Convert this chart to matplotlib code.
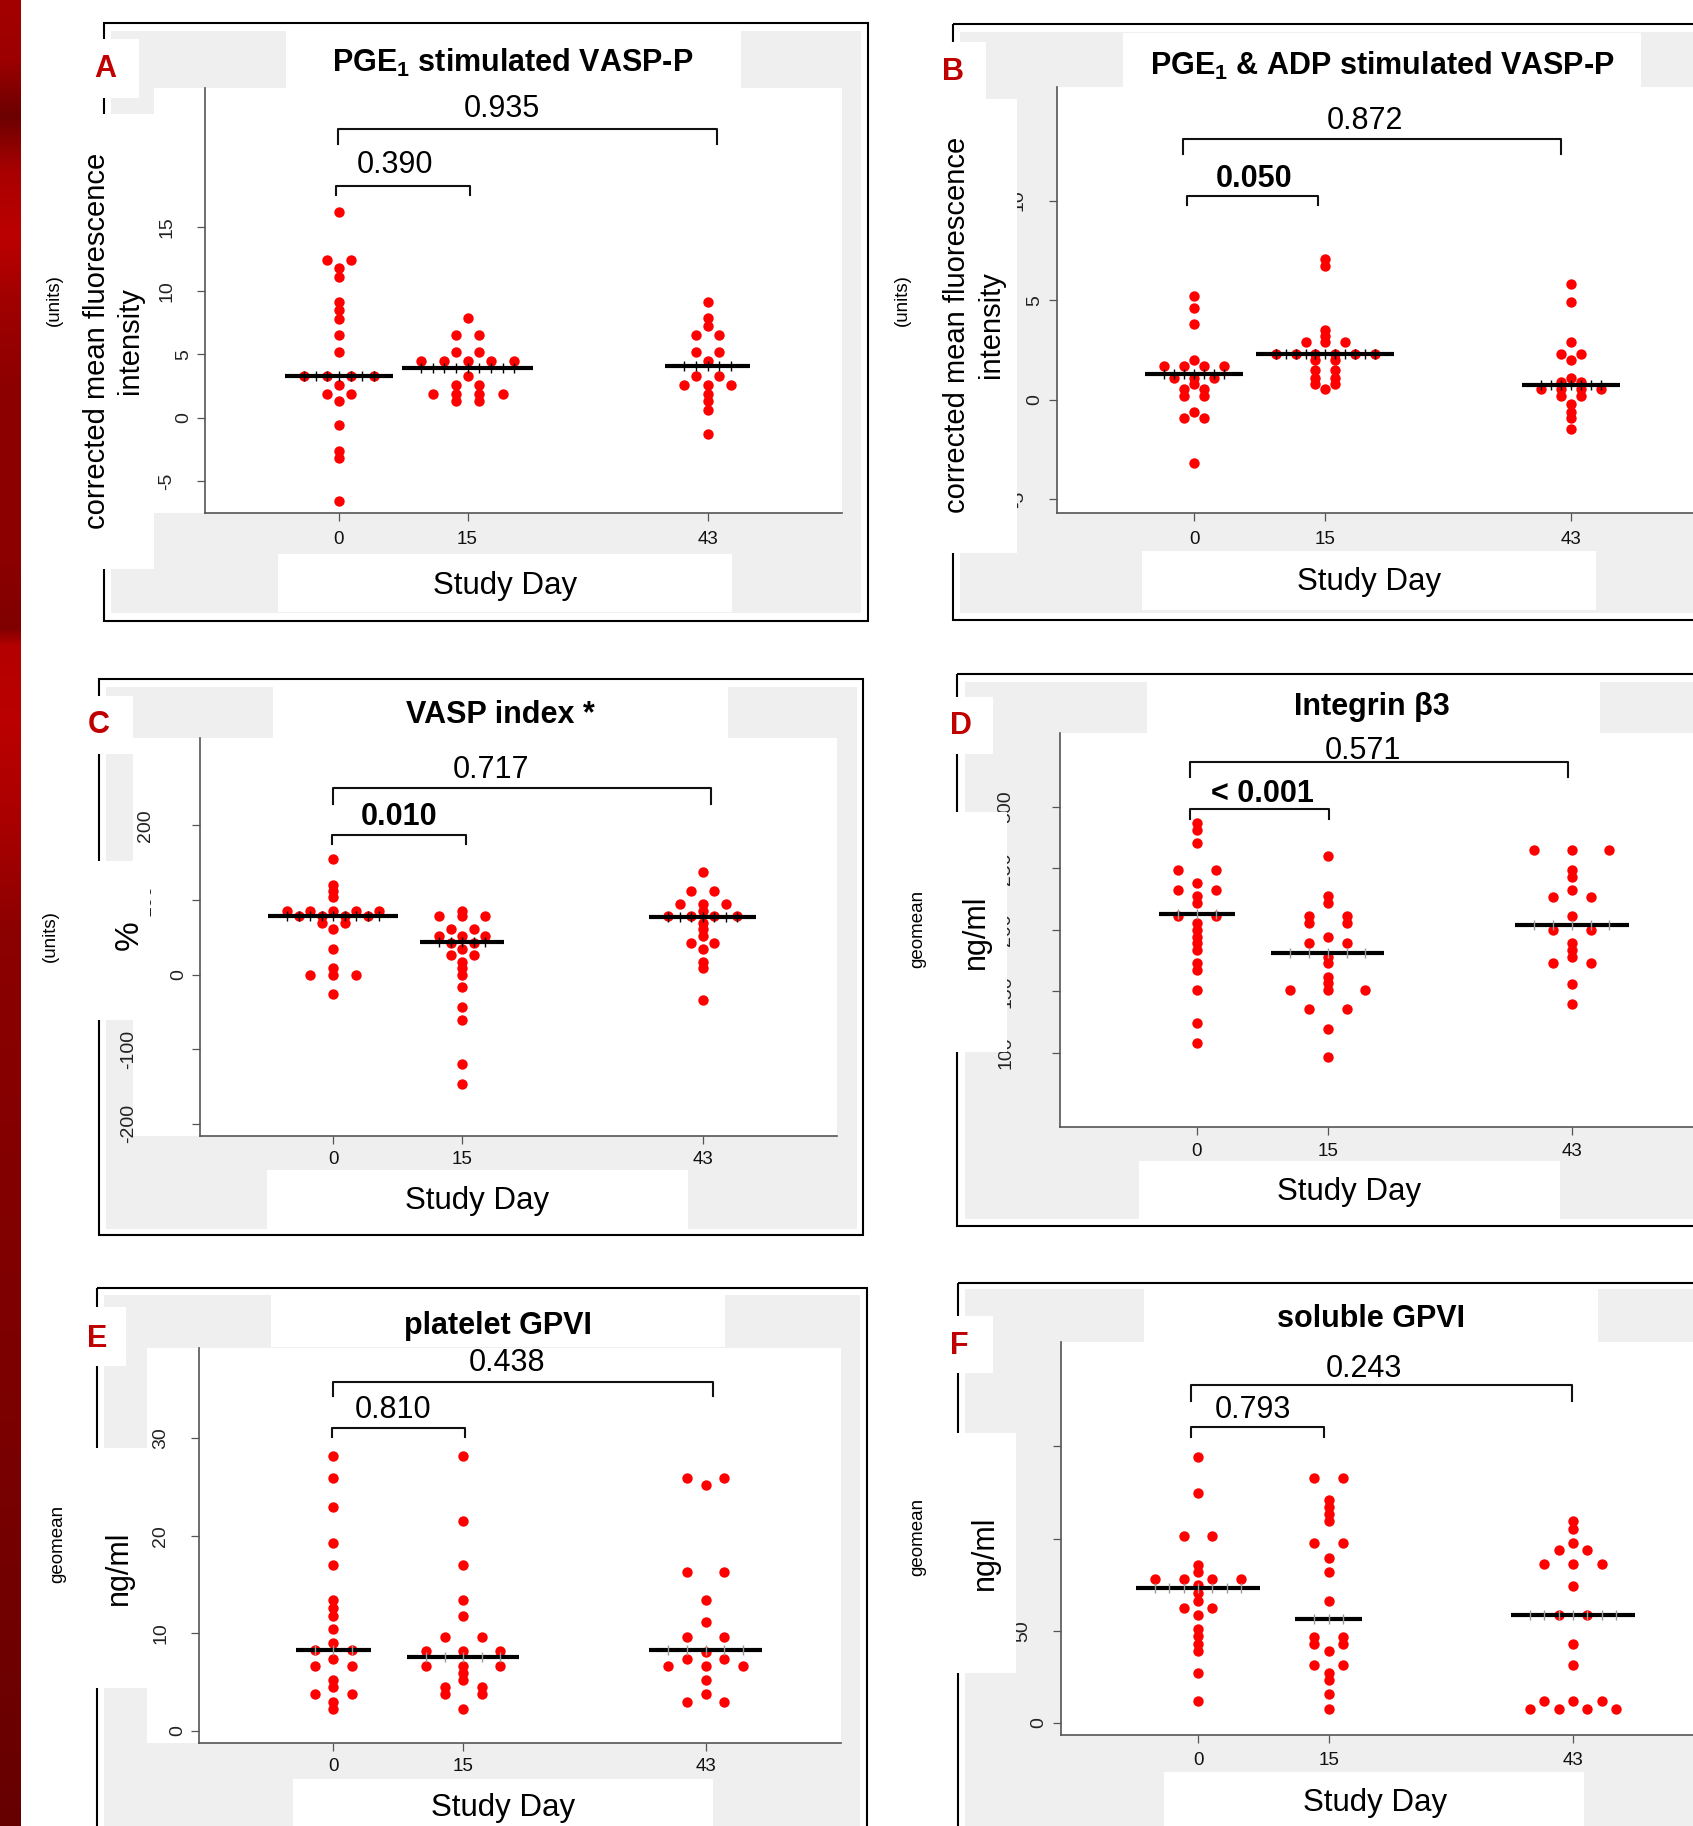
import numpy as np
import matplotlib
matplotlib.use("Agg")
import matplotlib.pyplot as plt
from matplotlib.patches import Rectangle
from matplotlib.transforms import Affine2D, blended_transform_factory
from matplotlib.colors import to_rgb

plt.rcParams['font.family'] = ['Liberation Sans', 'DejaVu Sans']
plt.rcParams['mathtext.fontset'] = 'custom'
plt.rcParams['mathtext.rm'] = 'Liberation Sans'
plt.rcParams['mathtext.bf'] = 'Liberation Sans:bold'

days = [0, 15, 43]

# A - PGE1 stimulated VASP-P (units)
a_d0 = [16.2, 12.4, 12.4, 11.8, 11.1, 9.1, 8.5, 7.8, 6.5, 5.2, 3.3, 3.3, 3.3, 3.3,
        2.6, 1.9, 1.9, 1.3, -0.6, -2.6, -3.2, -6.6]
a_d15 = [7.9, 6.5, 6.5, 5.2, 5.2, 4.5, 4.5, 4.5, 4.5, 4.5, 3.3, 2.6, 2.6,
         1.9, 1.9, 1.9, 1.9, 1.3, 1.3]
a_d43 = [9.1, 7.9, 7.2, 6.5, 6.5, 5.2, 5.2, 4.5, 3.3, 3.3, 2.6, 2.6, 2.6,
         1.9, 1.3, 0.6, -1.3]
a_med = [3.3, 3.9, 4.05]

# B - PGE1 & ADP stimulated VASP-P
b_d0 = [5.2, 4.6, 3.8, 2.0, 1.7, 1.7, 1.7, 1.7, 1.1, 1.1, 1.1, 0.8, 0.55, 0.55,
        0.2, 0.2, -0.6, -0.9, -0.9, -3.2]
b_d15 = [7.05, 6.7, 3.5, 3.2, 2.9, 2.9, 2.9, 2.3, 2.3, 2.3, 2.3, 2.3, 2.3,
         2.0, 2.0, 1.5, 1.5, 1.1, 1.1, 0.8, 0.8, 0.55]
b_d43 = [5.8, 4.9, 2.9, 2.3, 2.3, 2.0, 1.1, 0.9, 0.9, 0.55, 0.55, 0.55, 0.55,
         0.2, 0.2, -0.2, -0.6, -0.9, -1.5]
b_med = [1.27, 2.28, 0.75]

# C - VASP index (%)
c_d0 = [155, 120.5, 112, 103.6, 85.6, 85.6, 85.6, 85.6, 85.6, 78, 78, 78, 78,
        68.7, 68.7, 61, 34.4, 8.7, 0, 0, 0, -26]
c_d15 = [85.6, 78, 78, 78, 61, 61, 52.3, 52.3, 52.3, 42, 42, 34.4, 26.7, 26.7,
         16.4, 8.7, 0, -17, -43.6, -60.5, -119.5, -146]
c_d43 = [138, 112, 112, 95, 95, 95, 85.6, 78, 78, 78, 78, 68.7, 61, 52.3,
         43, 43, 34.4, 17.4, 8.7, -34]
c_med = [78, 43.6, 77]

# D - Integrin beta3 (ng/ml)
d_d0 = [287, 280.7, 270.5, 248.4, 248.4, 237.9, 232.3, 232.3, 227.3, 221.4,
        210.9, 210.9, 205.3, 199.7, 194.4, 189.1, 183.5, 172.7, 167.4, 151.2,
        124.5, 108]
d_d15 = [259.6, 227.3, 221.4, 210.9, 210.9, 205.3, 205.3, 194.4, 189.1, 189.1,
         178.3, 172.7, 161.8, 156.5, 151.2, 151.2, 151.2, 135.4, 135.4, 119.3, 96.9]
d_d43 = [264.6, 264.6, 264.6, 248.4, 243.2, 232.3, 227, 227, 210.9, 199.7,
         199.7, 189.1, 183.5, 178.3, 172.7, 172.7, 156.2, 140]
d_med = [212.7, 181, 204]

# E - platelet GPVI (ng/ml)
e_d0 = [28.2, 25.9, 23.0, 19.3, 17.0, 13.4, 12.6, 11.8, 10.4, 9.0, 8.25, 8.25,
        7.4, 6.65, 6.65, 5.2, 4.5, 3.75, 3.75, 3.0, 2.25]
e_d15 = [28.2, 21.5, 17.0, 13.4, 11.8, 9.6, 9.6, 8.2, 8.2, 8.2, 6.65, 6.65,
         6.65, 5.9, 5.2, 4.5, 4.5, 3.75, 3.75, 2.25]
e_d43 = [25.9, 25.9, 25.2, 16.3, 16.3, 13.4, 11.2, 9.6, 9.6, 8.1, 7.4, 7.4,
         6.65, 6.65, 6.65, 5.2, 3.75, 3.0, 3.0]
e_med = [8.25, 7.56, 8.25]

# F - soluble GPVI (ng/ml)
f_d0 = [144.4, 124.8, 101.5, 101.5, 85.8, 81.9, 78.1, 78.1, 78.1, 78.1, 74.6,
        70.4, 66, 62.1, 62.1, 58.7, 51, 47.1, 42.9, 39, 27.1, 11.7]
f_d15 = [132.7, 132.7, 121.2, 117.3, 113.5, 109.6, 97.5, 97.5, 89.6, 81.9, 66.3,
         46.7, 46.7, 42.9, 42.9, 39, 31.2, 31.2, 27.1, 23.3, 15.6, 7.7]
f_d43 = [109.6, 105.4, 97.5, 93.7, 93.7, 86, 86, 86, 74.4, 58.7, 58.7, 42.9,
         31.2, 11.7, 11.7, 11.7, 7.7, 7.7, 7.7, 7.7]
f_med = [73.3, 56.3, 58.7]

# p values: (label, bold)
a_p = [("0.390", False), ("0.935", False)]
b_p = [("0.050", True), ("0.872", False)]
c_p = [("0.010", True), ("0.717", False)]
d_p = [("< 0.001", True), ("0.571", False)]
e_p = [("0.810", False), ("0.438", False)]
f_p = [("0.793", False), ("0.243", False)]

W, H = 1693, 1826
fig = plt.figure(figsize=(W / 100, H / 100), dpi=100)
px = Affine2D().scale(1 / W, -1 / H).translate(0, 1) + fig.transFigure

GRAY = '#efefef'


def box(l, t, r, b, color, z):
    fig.add_artist(Rectangle((l, t), r - l, b - t, transform=px, facecolor=color,
                             edgecolor='none', zorder=z))


def swarm(vals, center, sp):
    counts = {}
    for v in vals:
        counts[v] = counts.get(v, 0) + 1
    seen = {}
    xs = []
    for v in vals:
        n = counts[v]
        k = seen.get(v, 0)
        seen[v] = k + 1
        xs.append(center + (k - (n - 1) / 2) * sp)
    return np.array(xs), max(counts.values())


# red strip on the left
strip = [(0, '#a30000'), (60, '#9c0000'), (115, '#6c0000'), (170, '#a80000'),
         (235, '#bc0000'), (300, '#a00000'), (390, '#8c0000'), (560, '#8c0000'),
         (628, '#800000'), (645, '#b40000'), (720, '#bb0000'), (820, '#aa0000'),
         (930, '#8c0000'), (1150, '#840000'), (1450, '#7a0000'), (1826, '#660000')]
sy = np.array([s[0] for s in strip])
sc = np.array([to_rgb(s[1]) for s in strip])
yy = np.arange(H)
img = np.stack([np.interp(yy, sy, sc[:, i]) for i in range(3)], axis=1)[:, None, :]
sax = fig.add_axes([0, 0, 21 / W, 1], zorder=-5)
sax.imshow(img, aspect='auto', extent=(0, 1, H, 0))
sax.set_axis_off()

# brk entries: (x start, x end, top, leg bottom, label x, label baseline)
panels = [
    dict(groups=[a_d0, a_d15, a_d43], med=a_med, p=a_p,
         border=(103.6, 23.3, 867.5, 620.6), gray=(111, 31.4, 861, 613.5),
         whites=[(286, 31.4, 741, 88), (154, 88, 841.7, 513), (278, 554, 732, 611.7)],
         covers=[(93, 39, 139, 98), (96, 114, 154, 569)],
         ax=(205, 88, 841.7, 513), cal=(339, 8.57, 417.7, 0, 12.68),
         yticks=[-5, 0, 5, 10, 15], xtick_y=544,
         letter=('A', 105.5, 69), title=('PGE$_{\\mathbf{1}}$ stimulated VASP-P', 513, 72),
         ylab=[('corrected mean fluorescence', 105, 341), ('intensity', 138, 341)], ylab_size=21,
         small=('(units)', 54, 300), xlab=(505, 593.6),
         brk=[(-0.4, 15.3, 18.3, 17.6, 6.5, 19.32), (-0.1, 44.1, 22.75, 21.6, 19, 23.69)],
         sp=2.72, tickc='black'),
    dict(groups=[b_d0, b_d15, b_d43], med=b_med, p=b_p,
         border=(952.7, 24, 1710, 620), gray=(960, 31.7, 1710, 613.3),
         whites=[(1122.7, 33.3, 1641, 87.5), (1056.5, 87.5, 1710, 513), (1142, 551, 1596, 610)],
         covers=[(930, 41.7, 985.7, 99), (930, 99, 1017.3, 553)],
         ax=(1056.5, 87.5, 1710, 513), cal=(1194, 8.76, 399.6, 0, 19.9),
         yticks=[-5, 0, 5, 10], xtick_y=544,
         letter=('B', 952.5, 72), title=('PGE$_{\\mathbf{1}}$ & ADP stimulated VASP-P', 1382, 75),
         ylab=[('corrected mean fluorescence', 965, 325), ('intensity', 999, 325)], ylab_size=21,
         small=('(units)', 902, 300), xlab=(1369, 590),
         brk=[(-0.8, 14.2, 10.23, 9.79, 6.8, 10.7), (-1.2, 41.9, 13.1, 12.35, 19.5, 13.62)],
         sp=2.27, tickc='black'),
    dict(groups=[c_d0, c_d15, c_d43], med=c_med, p=c_p,
         border=(98.5, 679.3, 863.3, 1235), gray=(106, 687, 857, 1229),
         whites=[(273, 687, 728, 738.5), (133, 738.5, 837, 1135.7), (267, 1170, 688, 1229)],
         covers=[(90, 696, 133, 754.5), (90, 861, 150, 1020.5)],
         ax=(200, 738.5, 837, 1135.7), cal=(333.3, 8.59, 974.6, 0, 0.746),
         yticks=[-200, -100, 0, 100, 200], xtick_y=1164.4,
         letter=('C', 99, 725), title=('VASP index *', 500, 723),
         ylab=[('%', 138, 935.6)], ylab_size=24,
         small=('(units)', 50, 936.5), xlab=(477, 1209),
         brk=[(-0.1, 15.5, 186.7, 175.4, 7.7, 201), (0, 44.0, 249.7, 229.2, 18.4, 263.7)],
         sp=2.68, tickc='black'),
    dict(groups=[d_d0, d_d15, d_d43], med=d_med, p=d_p,
         border=(956.7, 674, 1710, 1225.6), gray=(965, 681.7, 1710, 1219.5),
         whites=[(1146.5, 681.7, 1599.5, 732.7), (1060, 732.7, 1710, 1127), (1139, 1161, 1559.6, 1219.5)],
         covers=[(945, 697, 993, 754.5), (945, 811.7, 1006.7, 1051.7)],
         ax=(1060, 732.7, 1710, 1127), cal=(1197, 8.72, 1053, 100, 1.232),
         yticks=[100, 150, 200, 250, 300], xtick_y=1155.6,
         letter=('D', 961, 726), title=('Integrin β3', 1372, 715.5),
         ylab=[('ng/ml', 983.5, 931.7)], ylab_size=22,
         small=('geomean', 917.5, 928.6), xlab=(1349, 1200),
         brk=[(-0.8, 15.1, 297.8, 290, 7.5, 303.4), (-0.8, 42.6, 336, 324.2, 19, 338.9)],
         sp=4.3, tickc='#9a9a9a'),
    dict(groups=[e_d0, e_d15, e_d43], med=e_med, p=e_p,
         border=(97, 1288.4, 866.7, 1840), gray=(104.4, 1295.5, 860, 1840),
         whites=[(270.6, 1295.5, 725, 1347), (147, 1348, 840.6, 1742.7), (292.8, 1779, 712.8, 1840)],
         covers=[(88, 1307, 126, 1366), (88, 1448, 147, 1688)],
         ax=(199, 1348, 840.6, 1742.7), cal=(333.3, 8.66, 1731, 0, 9.76),
         yticks=[0, 10, 20, 30], xtick_y=1770.7,
         letter=('E', 97, 1338.6), title=('platelet GPVI', 497.5, 1334),
         ylab=[('ng/ml', 127, 1568)], ylab_size=22,
         small=('geomean', 57.8, 1544), xlab=(502.8, 1816),
         brk=[(-0.1, 15.2, 31.07, 30.1, 6.9, 32.05), (0, 43.8, 35.8, 34.34, 20, 36.9)],
         sp=4.3, tickc='#9a9a9a'),
    dict(groups=[f_d0, f_d15, f_d43], med=f_med, p=f_p,
         border=(957.8, 1283, 1710, 1840), gray=(965, 1289.5, 1710, 1840),
         whites=[(1144, 1289.5, 1598, 1342), (1060.7, 1342, 1710, 1734.5), (1164, 1771.8, 1583.6, 1840)],
         covers=[(945, 1316, 993, 1373.5), (945, 1432.7, 1016, 1672.7)],
         ax=(1060.7, 1342, 1710, 1734.5), cal=(1198, 8.72, 1723, 0, 1.844),
         yticks=[0, 50, 100, 150], xtick_y=1764.7,
         letter=('F', 959, 1345.7), title=('soluble GPVI', 1371, 1326.7),
         ylab=[('ng/ml', 993, 1552.5)], ylab_size=22,
         small=('geomean', 917.5, 1537), xlab=(1374.7, 1810.8),
         brk=[(-0.8, 14.5, 160.7, 155.3, 6.3, 165.3), (-0.8, 42.9, 183.2, 174.5, 19, 187.6)],
         sp=3.3, tickc='#9a9a9a'),
]

for P in panels:
    bl, bt, br, bb = P['border']
    box(*P['gray'], GRAY, -4)
    fig.add_artist(Rectangle((bl, bt), br - bl, bb - bt, transform=px, facecolor='none',
                             edgecolor='black', lw=1.5, zorder=-3))
    for w in P['whites']:
        box(*w, 'white', -2)
    for c in P['covers']:
        box(*c, 'white', 2)

    l, t, r, b = P['ax']
    x0, ppd, y0, v0, ppu = P['cal']
    ax = fig.add_axes([l / W, 1 - b / H, (r - l) / W, (b - t) / H], zorder=0)
    ax.set_xlim((l - x0) / ppd, (r - x0) / ppd)
    ax.set_ylim(v0 + (y0 - b) / ppu, v0 + (y0 - t) / ppu)
    ax.set_facecolor('white')
    for s in ['top', 'right']:
        ax.spines[s].set_visible(False)
    for s in ['left', 'bottom']:
        ax.spines[s].set_color('#555555')
        ax.spines[s].set_linewidth(1.2)
    ax.set_xticks(days)
    ax.set_yticks(P['yticks'])
    ax.tick_params(length=5.5, width=0.9, color='#555555', labelleft=False, labelbottom=False)

    sp = P['sp']
    for d, vals, m in zip(days, P['groups'], P['med']):
        xs, nmax = swarm(vals, d, sp)
        ax.scatter(xs, vals, s=56, color='#ff0000', lw=0, zorder=3, clip_on=False)
        hw = (nmax - 1) / 2 * sp + 2.2
        ax.plot([d - hw, d + hw], [m, m], color='black', lw=3.0, solid_capstyle='butt', zorder=4)
        tx = d + np.arange(-(nmax - 1), nmax) * sp / 2
        ax.plot(tx, np.full(len(tx), m), ls='none', marker='|', ms=7, mew=1.0,
                color=P['tickc'], zorder=5)

    for (x1, x2, top, bot, lx, ly), (lab, bold) in zip(P['brk'], P['p']):
        ax.plot([x1, x1, x2, x2], [bot, top, top, bot], color='#111111', lw=1.5,
                clip_on=False, zorder=4)
        ax.text(lx, ly, lab, ha='center', va='baseline', fontsize=22,
                fontweight='bold' if bold else 'normal', zorder=6)

    ytr = blended_transform_factory(px, ax.transData)
    for v in P['yticks']:
        s = str(v)
        cx = l - (21.5 + 16.5 * (len(s) - 1))
        fig.text(cx, v, s, transform=ytr, rotation=90, ha='center', va='center',
                 fontsize=14, color='#222222', zorder=1)
    xtr = blended_transform_factory(ax.transData, px)
    for d in days:
        fig.text(d, P['xtick_y'], str(d), transform=xtr, ha='center', va='baseline',
                 fontsize=13.5, color='#111111', zorder=1)

    lt, lx, ly = P['letter']
    fig.text(lx, ly, lt, transform=px, ha='center', va='center', fontsize=22,
             fontweight='bold', color='#c00000', zorder=3)
    tt, tx_, ty = P['title']
    fig.text(tx_, ty, tt, transform=px, ha='center', va='baseline', fontsize=22,
             fontweight='bold', zorder=3)
    for s, xb, yc in P['ylab']:
        fig.text(xb, yc, s, transform=px, rotation=90, rotation_mode='anchor',
                 ha='center', va='baseline', fontsize=P['ylab_size'], zorder=3)
    st, sx, sy_ = P['small']
    fig.text(sx, sy_, st, transform=px, rotation=90, ha='center', va='center',
             fontsize=13.5, zorder=3)
    fig.text(P['xlab'][0], P['xlab'][1], 'Study Day', transform=px, ha='center',
             va='baseline', fontsize=22.5, zorder=3)

fig.savefig('out.png', dpi=100)
